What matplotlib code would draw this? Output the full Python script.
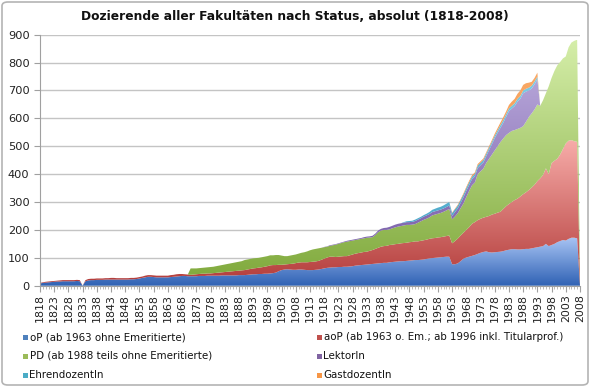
import numpy as np
import matplotlib
matplotlib.use("Agg")
import matplotlib.pyplot as plt
from matplotlib.colors import LinearSegmentedColormap
from matplotlib.patches import FancyBboxPatch, Rectangle

years = list(range(1818, 2009))

oP = [8, 10, 11, 12, 13, 14, 15, 15, 16, 16,
      16, 16, 16, 17, 16, 0, 16, 19, 20, 20,
      21, 21, 21, 22, 22, 22, 22, 22, 22, 22,
      22, 22, 23, 23, 24, 26, 28, 30, 32, 32,
      31, 30, 30, 30, 30, 30, 31, 32, 33, 34,
      35, 35, 34, 34, 34, 34, 35, 35, 35, 36,
      36, 36, 36, 36, 37, 37, 37, 37, 37, 37,
      38, 38, 38, 39, 40, 41, 41, 42, 42, 43,
      43, 44, 45, 47, 52, 56, 58, 59, 58, 57,
      57, 58, 58, 57, 56, 56, 56, 57, 58, 60,
      62, 64, 65, 66, 66, 67, 67, 68, 68, 69,
      70, 72, 73, 74, 75, 76, 77, 78, 79, 80,
      81, 82, 82, 84, 85, 86, 87, 88, 88, 89,
      90, 91, 92, 92, 93, 94, 96, 98, 99, 100,
      101, 102, 103, 104, 104, 77, 77, 80, 88, 97,
      101, 104, 107, 110, 114, 118, 121, 123, 120, 119,
      120, 121, 122, 124, 127, 129, 131, 131, 130, 130,
      131, 132, 132, 134, 136, 138, 140, 142, 150, 142,
      146, 150, 156, 160, 164, 162, 168, 172, 172, 170,
      0]

aoP = [2, 2, 3, 3, 3, 3, 3, 4, 4, 4,
       4, 4, 4, 4, 4, 0, 4, 5, 5, 5,
       5, 5, 5, 5, 5, 6, 6, 5, 5, 5,
       5, 5, 5, 5, 5, 5, 5, 6, 6, 6,
       6, 6, 6, 6, 6, 6, 7, 7, 8, 8,
       7, 6, 6, 5, 6, 7, 7, 8, 8, 8,
       8, 9, 10, 11, 11, 12, 13, 14, 15, 16,
       16, 17, 18, 19, 20, 21, 22, 23, 24, 25,
       27, 29, 29, 27, 23, 19, 18, 18, 20, 22,
       24, 25, 26, 27, 28, 29, 30, 30, 31, 33,
       35, 37, 39, 38, 37, 37, 38, 38, 38, 40,
       42, 43, 44, 45, 46, 46, 48, 50, 53, 56,
       59, 60, 61, 62, 62, 63, 63, 64, 65, 65,
       66, 66, 67, 67, 68, 69, 69, 70, 71, 71,
       72, 72, 73, 74, 76, 75, 83, 89, 92, 93,
       99, 106, 115, 118, 121, 122, 123, 124, 130, 136,
       138, 141, 143, 151, 158, 164, 169, 176, 182, 190,
       197, 203, 211, 218, 226, 237, 245, 255, 271, 258,
       294, 298, 299, 310, 326, 348, 352, 350, 346, 346,
       0]

PD = ([0] * 53 +
      [23, 22, 21, 21, 21, 22, 22, 23, 23, 24, 25, 26, 27, 28, 29,
       30, 31, 32, 33, 36, 36, 36, 36, 36, 35, 36, 36, 36, 36, 35] +
      [36, 35, 33, 30, 29, 30, 31, 31, 32, 34, 36, 39, 42, 44, 45,
       45, 43, 41, 39, 39, 41, 44, 46, 48, 50, 52, 51, 50, 49, 49] +
      [49, 49, 50, 48, 46, 50, 56, 58, 58, 57, 56, 59, 60, 62, 62, 63,
       64, 62, 62, 62, 67, 70, 73, 75, 77, 82, 84, 85, 87, 89, 92, 95] +
      [86, 88, 91, 98, 105, 118, 130, 138, 142, 165, 170, 176, 193, 205, 215,
       227, 238, 250, 253, 255, 255, 255, 251, 250, 246, 244, 253, 262, 266, 270,
       275, 260, 268, 269, 315, 305, 322, 335, 332, 325, 312, 335, 350, 360, 366] +
      [0])

Lektor = ([0] * 100 +
          [1, 1, 2, 2, 2, 2, 2, 2, 3, 3,
           3, 3, 3, 3, 4, 4, 4, 5, 5, 6,
           6, 7, 8, 9, 9, 10, 10, 10, 10, 10,
           10, 10, 11, 11, 11, 12, 12, 12, 12, 12,
           12, 12, 12, 12, 13] +
          [12, 16, 17, 19, 22, 22, 21, 22, 22, 22, 22, 22, 24, 31, 37, 44,
           48, 51, 56, 65, 78, 80, 86, 98, 104, 118, 108, 95, 89, 90, 90] +
          [0] * 15)

Ehren = ([0] * 128 +
         [2, 3, 4, 4, 5, 5, 5, 5, 6, 7, 8, 9, 10, 10, 11, 12, 12] +
         [10, 10, 10, 10, 10, 10, 10, 9, 9, 9, 9, 9, 9, 9, 9, 9,
          9, 10, 10, 10, 10, 10, 10, 10, 10, 10, 10, 10, 10, 10, 10] +
         [0] * 15)

Gast = ([0] * 145 +
        [2, 2, 3, 3, 4, 4, 5, 5, 5, 5, 5, 5, 5, 5, 6, 7, 8, 9, 10, 10,
         12, 15, 16, 18, 20, 20, 20, 18, 14, 13, 14] +
        [0] * 15)

labels = ["oP (ab 1963 ohne Emeritierte)",
          "aoP (ab 1963 o. Em.; ab 1996 inkl. Titularprof.)",
          "PD (ab 1988 teils ohne Emeritierte)",
          "LektorIn",
          "EhrendozentIn",
          "GastdozentIn"]
series = [oP, aoP, PD, Lektor, Ehren, Gast]
legend_colors = ["#4f81bd", "#c0504d", "#9bbb59", "#8064a2", "#4bacc6", "#f79646"]
grad_colors = [("#2f62b4", "#a6c2f3"),
               ("#b23a38", "#f7aca9"),
               ("#7ea83a", "#d5eea9"),
               ("#6e52a0", "#c2b3e2"),
               ("#3a9cc0", "#8ad4ec"),
               ("#f08030", "#fab070")]

x = np.array(years, dtype=float)
data = np.array(series, dtype=float)
cum = np.cumsum(data, axis=0)

fig = plt.figure(figsize=(5.9, 3.87), dpi=100)
ax = fig.add_axes([40 / 590, 101.3 / 387, 540 / 590, 251 / 387])
ax.set_xlim(1818, 2008)
ax.set_ylim(0, 900)

grad = np.linspace(0, 1, 256).reshape(-1, 1)
bottom = np.zeros_like(x)
for i in range(len(series)):
    top = cum[i]
    coll = ax.fill_between(x, bottom, top, facecolor="none", edgecolor="none")
    span = max(top.max(), 1)
    cmap = LinearSegmentedColormap.from_list("g%d" % i, list(grad_colors[i]))
    im = ax.imshow(grad, extent=[1818, 2008, 0, span], origin="lower",
                   aspect="auto", cmap=cmap, zorder=2 + i * 0.01,
                   interpolation="bilinear")
    im.set_clip_path(coll.get_paths()[0], transform=coll.get_transform())
    bottom = top

ax.set_xlim(1818, 2008)
ax.set_ylim(0, 900)
ax.set_yticks(range(0, 901, 100))
ax.set_xticks(list(range(1818, 2009, 5)))
ax.set_xticks(years, minor=True)
ax.set_xticklabels([str(y) for y in range(1818, 2009, 5)], rotation=90,
                   fontsize=7.9, color="#222222")
ax.tick_params(axis="y", labelsize=8.2, colors="#222222", length=4, color="#a0a0a0", width=0.8)
ax.tick_params(axis="x", which="major", length=4, color="#a0a0a0", width=0.8, pad=2)
ax.tick_params(axis="x", which="minor", length=2, color="#b0b0b0", width=0.6)
ax.set_axisbelow(True)
ax.yaxis.grid(True, color="#c4c4c4", linewidth=1.0)
for s in ["top", "right"]:
    ax.spines[s].set_visible(False)
for s in ["left", "bottom"]:
    ax.spines[s].set_color("#a0a0a0")
    ax.spines[s].set_linewidth(0.8)

fig.text(0.5, 1 - 17 / 387, "Dozierende aller Fakultäten nach Status, absolut (1818-2008)",
         ha="center", va="center", fontsize=8.8, fontweight="bold", color="#111111")

# legend (row-major, two columns)
rows_y = [337, 356, 375]
cols_x = [23, 317]
for i, lab in enumerate(labels):
    r, c = divmod(i, 2)
    xm = cols_x[c]
    ym = rows_y[r]
    fig.patches.append(Rectangle((xm / 590, 1 - (ym + 3) / 387), 5 / 590, 5 / 387,
                                 transform=fig.transFigure, facecolor=legend_colors[i],
                                 edgecolor="none"))
    fig.text((xm + 6.5) / 590, 1 - ym / 387, lab, ha="left", va="center",
             fontsize=7.4, color="#111111")

fig.patches.append(FancyBboxPatch((2 / 590, 2 / 387), 586 / 590, 383 / 387,
                                  boxstyle="round,pad=0,rounding_size=0.01",
                                  transform=fig.transFigure, facecolor="none",
                                  edgecolor="#b4b4b4", linewidth=1.2))

fig.savefig("out.png", dpi=100)
